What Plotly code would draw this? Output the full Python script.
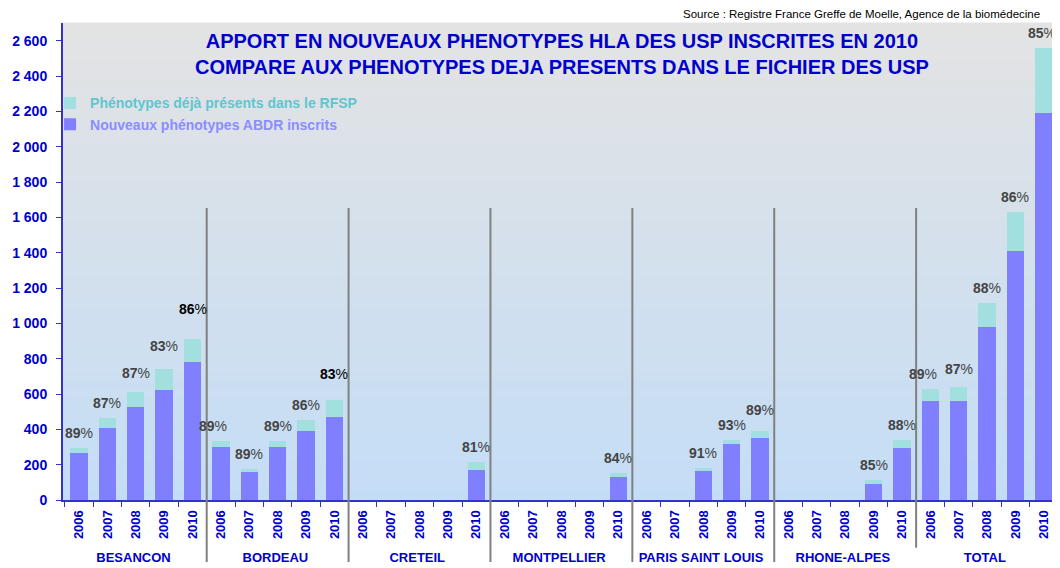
import plotly.graph_objects as go

groups = ["BESANCON", "BORDEAU", "CRETEIL", "MONTPELLIER",
          "PARIS SAINT LOUIS", "RHONE-ALPES", "TOTAL"]
years = ["2006", "2007", "2008", "2009", "2010"]

# Nouveaux phénotypes ABDR inscrits (bottom segment)
new_abdr = [265, 405, 526, 622, 783,
            298, 160, 298, 389, 472,
            0, 0, 0, 0, 172,
            0, 0, 0, 0, 130,
            0, 0, 166, 315, 351,
            0, 0, 0, 92, 296,
            560, 560, 981, 1407, 2188]
# Phénotypes déjà présents dans le RFSP (top segment)
already = [30, 61, 83, 119, 128,
           36, 17, 36, 66, 94,
           0, 0, 0, 0, 41,
           0, 0, 0, 0, 23,
           0, 0, 15, 25, 41,
           0, 0, 0, 19, 42,
           66, 80, 134, 223, 372]
pct_labels = ["89%", "87%", "87%", "83%", "86%",
              "89%", "89%", "89%", "86%", "83%",
              "", "", "", "", "81%",
              "", "", "", "", "84%",
              "", "", "91%", "93%", "89%",
              "", "", "", "85%", "88%",
              "89%", "87%", "88%", "86%", "85%"]

FONT = "Liberation Sans, Arial, sans-serif"
BLUE = "#0000CC"

x_grp = [g for g in groups for _ in years]
x_yr = [y for _ in groups for y in years]

fig = go.Figure()
fig.add_trace(go.Bar(
    x=[x_grp, x_yr], y=new_abdr,
    name="<span style='color:#8C8CFF'>Nouveaux phénotypes ABDR inscrits</span>",
    marker=dict(color="#8080FF", line=dict(width=0)),
))
fig.add_trace(go.Bar(
    x=[x_grp, x_yr], y=already,
    name="<span style='color:#5EC6D0'>Phénotypes déjà présents dans le RFSP</span>",
    marker=dict(color="#A2E0E0", line=dict(width=0)),
))

# background gradient (gray at top to light blue at bottom)
shapes = []
n = 60
top = (227, 227, 227)
bot = (196, 221, 246)
for k in range(n):
    t = (k + 0.5) / n
    c = tuple(round(top[j] + (bot[j] - top[j]) * t) for j in range(3))
    shapes.append(dict(type="rect", xref="paper", yref="paper",
                       x0=0, x1=1, y0=1 - (k + 1) / n, y1=1 - k / n + 0.001,
                       fillcolor="rgb(%d,%d,%d)" % c, line=dict(width=0),
                       layer="below"))
# group separators
for gi in range(1, len(groups)):
    xb = gi * len(years) - 0.5
    shapes.append(dict(type="line", xref="x", yref="paper",
                       x0=xb, x1=xb, y0=0.612,
                       y1=-0.13 if gi < len(groups) - 1 else -0.10,
                       line=dict(color="#808080", width=2), layer="above"))

annotations = []
extra = {2: 4, 3: 8, 4: 15, 9: 11, 24: 6, 31: 3}
xsh = {5: -8, 30: -7, 34: -2}
for i, lab in enumerate(pct_labels):
    if not lab:
        continue
    annotations.append(dict(
        x=i, y=new_abdr[i] + already[i], xref="x", yref="y",
        text="<b>" + lab[:-1] + "</b>%", showarrow=False,
        yanchor="bottom", yshift=5 + extra.get(i, 0), xshift=xsh.get(i, 0),
        font=dict(family=FONT, size=14,
                  color="#000000" if i in (4, 9) else "#444444"),
    ))
annotations.append(dict(
    x=1.0, y=1.0, xref="paper", yref="paper", xanchor="right", yanchor="bottom",
    xshift=-16, yshift=1,
    text="Source : Registre France Greffe de Moelle, Agence de la biomédecine",
    showarrow=False, font=dict(family=FONT, size=11.5, color="#000000"),
))
annotations.append(dict(
    x=0.502, y=0.99, xref="paper", yref="paper", xanchor="center", yanchor="top",
    text="<b>APPORT EN NOUVEAUX PHENOTYPES HLA DES USP INSCRITES EN 2010<br>"
         "COMPARE AUX PHENOTYPES DEJA PRESENTS DANS LE FICHIER DES USP</b>",
    showarrow=False, align="center",
    font=dict(family=FONT, size=20, color=BLUE),
))

fig.update_layout(
    width=1052, height=560,
    margin=dict(l=55, r=2, t=15, b=68),
    paper_bgcolor="white", plot_bgcolor="#D0E0F0",
    barmode="stack", bargap=0.39,
    separators=", ",
    font=dict(family=FONT, color=BLUE),
    shapes=shapes, annotations=annotations,
    legend=dict(x=-0.013, y=0.865, xanchor="left", yanchor="top",
                bgcolor="rgba(0,0,0,0)",
                font=dict(family=FONT, size=14, weight="bold"),
                itemwidth=30, tracegroupgap=0),
    showlegend=True,
)
fig.update_yaxes(
    range=[0, 2700], tickvals=list(range(0, 2601, 200)),
    separatethousands=True, tickformat=",d",
    showgrid=False, zeroline=False,
    showline=True, linecolor="#3333CC", linewidth=2,
    ticks="outside", ticklen=5, tickcolor="#3333CC", ticklabelstandoff=6,
    tickfont=dict(family=FONT, size=14, color=BLUE, weight="bold"),
)
fig.update_xaxes(
    type="multicategory", showdividers=False,
    showgrid=False, zeroline=False,
    showline=True, linecolor="#3333CC", linewidth=2,
    ticks="outside", ticklen=5, tickcolor="#3333CC", tickson="boundaries",
    tickangle=-90, ticklabelstandoff=3,
    tickfont=dict(family=FONT, size=13, color=BLUE, weight="bold"),
)

fig.write_html("out.html")
